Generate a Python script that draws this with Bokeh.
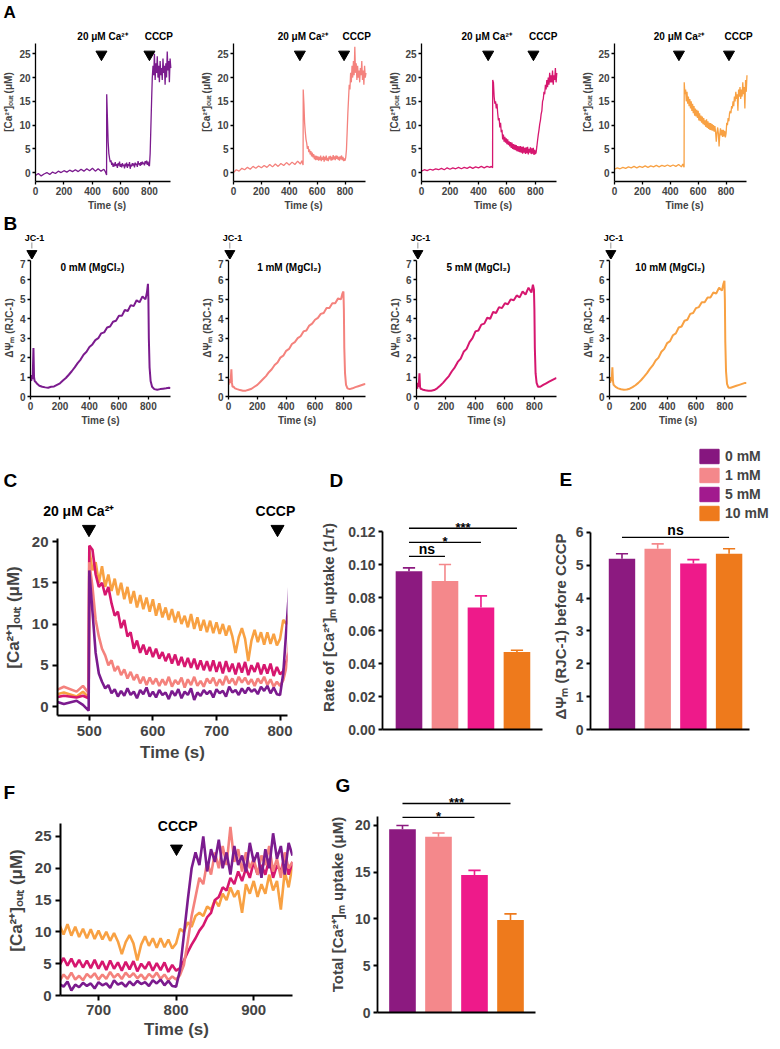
from bokeh.plotting import figure
from bokeh.layouts import column, row
from bokeh.models import Label, Legend, LegendItem, FixedTicker, NumeralTickFormatter, Range1d
from bokeh.embed import file_html
from bokeh.resources import INLINE

FONT = "Liberation Sans"

# ---------------- data ----------------
conditions = ["0 mM", "1 mM", "5 mM", "10 mM"]
trace_colors = ["#7B1B8E", "#F4827D", "#D6176F", "#F8A143"]
bar_colors = ["#8C1A80", "#F4888B", "#EE1A8A", "#EE7A1C"]
legend_colors = ["#86167F", "#F4888B", "#A21A8E", "#EE7A1C"]
mgcl2_labels = ["0 mM (MgCl₂)", "1 mM (MgCl₂)", "5 mM (MgCl₂)", "10 mM (MgCl₂)"]

ca_time = list(range(0, 500, 20)) + [490, 499] + list(range(500, 955, 5))

ca_0mM = [
    -0.6, -0.2, -0.7, -0.3, 0.0, -0.4, 0.1, -0.2, 0.3, 0.0, 0.4, 0.1, 0.5, 0.2, 0.6, 0.2, 0.7, 0.3, 0.8, 0.4,
    0.9, 0.3, 0.8, 0.3, 0.7, 0.2, -0.5,
    16.5, 11.5, 6.5, 4.0, 3.0, 2.2, 2.6, 1.6, 2.1, 1.2,
    1.9, 1.3, 2.2, 1.4, 1.8, 1.0, 2.0, 1.5, 2.3, 1.2,
    1.8, 1.1, 2.0, 1.4, 1.7, 0.9, 1.9, 1.3, 2.1, 1.0,
    1.8, 1.4, 2.2, 0.8, 1.7, 1.3, 2.0, 1.5, 1.9, 1.1,
    2.1, 1.6, 1.9, 1.2, 2.4, 1.7, 2.0, 1.4, 2.2, 1.6,
    2.3, 1.8, 2.1, 1.5, 2.4, 1.9, 2.5, 1.6, 2.3, 1.5,
    1.4, 4.0, 9.5, 15.0, 20.0, 22.5, 20.5, 25.0, 19.5, 23.0,
    21.0, 24.5, 20.0, 22.5, 19.0, 23.5, 20.5, 22.0, 19.5, 24.0,
    21.0, 22.5, 18.5, 23.0, 20.0, 25.5, 21.5, 23.5, 19.0, 24.0,
    22.0]
ca_1mM = [
    0.0, 0.6, 0.3, 0.9, 0.6, 1.1, 0.7, 1.3, 0.9, 1.4, 1.0, 1.5, 1.1, 1.7, 1.2, 1.8, 1.3, 1.9, 1.5, 2.1,
    1.6, 2.2, 1.7, 2.4, 1.8, 2.5, 1.6,
    17.5, 14.5, 10.5, 8.5, 7.0, 6.2, 5.0, 5.6, 4.3, 4.9,
    3.8, 4.5, 3.4, 4.2, 3.2, 3.9, 2.8, 3.6, 2.6, 3.5,
    2.7, 3.4, 2.5, 3.3, 2.6, 3.6, 2.4, 3.2, 2.7, 3.5,
    2.3, 3.3, 2.6, 3.6, 2.5, 3.1, 2.4, 3.4, 2.8, 3.5,
    2.5, 3.3, 2.6, 3.7, 2.8, 3.4, 2.6, 3.6, 2.9, 3.5,
    2.7, 3.3, 2.5, 3.4, 2.8, 3.6, 2.6, 3.3, 2.4, 3.0,
    2.5, 3.2, 4.8, 8.5, 12.5, 15.5, 18.5, 17.5, 21.0, 19.0,
    22.5, 20.0, 23.5, 20.5, 26.5, 21.0, 23.0, 19.5, 22.5, 20.0,
    21.5, 19.0, 22.0, 20.5, 23.5, 19.5, 21.5, 18.5, 22.5, 20.0,
    21.0]
ca_5mM = [
    0.3, 0.6, 0.4, 0.7, 0.5, 0.8, 0.6, 0.9, 0.6, 1.0, 0.7, 1.0, 0.8, 1.1, 0.8, 1.1, 0.9, 1.2, 0.9, 1.2,
    1.0, 1.3, 1.0, 1.3, 1.1, 1.3, 1.0,
    19.5, 19.0, 16.0, 14.5, 15.0, 13.5, 14.5, 12.5, 11.0, 11.5,
    9.5, 10.5, 8.5, 9.0, 7.0, 8.0, 6.5, 7.5, 6.3, 7.2,
    6.0, 7.0, 5.8, 6.6, 5.5, 6.4, 5.2, 6.3, 5.0, 6.0,
    4.8, 5.9, 4.7, 5.8, 4.5, 5.6, 4.4, 5.5, 4.3, 5.6,
    4.2, 5.4, 4.0, 5.5, 4.2, 5.2, 3.9, 5.3, 4.1, 5.4,
    3.8, 5.0, 4.2, 5.3, 3.9, 5.1, 4.0, 5.2, 3.7, 4.8,
    3.9, 4.3, 5.5, 6.8, 8.0, 9.0, 10.2, 11.0, 12.3, 13.0,
    15.0, 15.5, 17.0, 16.5, 18.5, 17.5, 19.5, 18.0, 20.0, 18.5,
    21.0, 19.0, 20.5, 19.0, 21.5, 18.5, 20.5, 19.5, 22.0, 19.0,
    21.0]
ca_10mM = [
    0.7, 1.0, 0.8, 1.1, 0.9, 1.2, 1.0, 1.3, 1.0, 1.3, 1.1, 1.4, 1.1, 1.4, 1.2, 1.5, 1.2, 1.5, 1.3, 1.6,
    1.3, 1.6, 1.3, 1.7, 1.2, 1.8, 1.1,
    19.0, 16.5, 17.5, 15.0, 17.0, 14.5, 16.0, 14.0, 15.5, 13.5,
    15.0, 13.0, 14.5, 12.5, 14.0, 12.0, 13.5, 11.8, 13.2, 11.5,
    13.0, 11.0, 12.5, 10.8, 12.0, 10.5, 11.8, 10.2, 11.5, 10.0,
    11.0, 9.6, 11.2, 9.4, 10.8, 9.2, 10.5, 9.0, 10.4, 8.9,
    10.2, 8.8, 10.0, 8.6, 9.8, 8.5, 6.5, 8.4, 9.5, 8.2,
    5.5, 8.0, 9.3, 7.8, 9.0, 7.5, 9.0, 7.6, 8.8, 7.4,
    8.2, 10.5, 10.0, 11.5, 10.8, 12.5, 13.0, 12.5, 14.0, 13.5,
    15.0, 14.0, 16.0, 15.0, 17.0, 15.5, 16.5, 13.0, 17.5, 16.0,
    18.0, 15.5, 17.5, 16.0, 19.0, 16.5, 18.0, 13.5, 19.5, 17.0,
    20.5]
ca_traces = [ca_0mM, ca_1mM, ca_5mM, ca_10mM]

jc_time = [0, 5, 10, 15, 20, 24, 28, 35, 45, 60, 80] + list(range(100, 800, 20)) + \
          [790, 797, 800, 803, 808, 815, 825, 840, 860, 880, 900, 920, 940, 950]
jc_0mM = [1.0, 0.8, 1.1, 0.9, 2.5, 1.0, 0.8, 0.75, 0.65, 0.55, 0.5,
          0.47, 0.45, 0.5, 0.52, 0.6, 0.68, 0.82, 0.95, 1.12, 1.3, 1.5, 1.72, 1.9, 2.15, 2.3, 2.55, 2.68, 2.9,
          3.0, 3.25, 3.3, 3.55, 3.6, 3.85, 3.9, 4.15, 4.15, 4.45, 4.4, 4.7, 4.65, 4.95, 4.85, 5.15, 5.0,
          5.35, 5.8, 5.0, 3.0, 1.5, 0.8, 0.5, 0.38, 0.35, 0.38, 0.4, 0.42, 0.45, 0.43]
jc_1mM = [0.6, 0.9, 0.7, 0.8, 1.4, 0.7, 0.5, 0.5, 0.42, 0.38, 0.33,
          0.3, 0.3, 0.35, 0.4, 0.5, 0.6, 0.75, 0.9, 1.05, 1.25, 1.4, 1.62, 1.75, 2.0, 2.1, 2.35, 2.45, 2.7,
          2.8, 3.0, 3.1, 3.35, 3.4, 3.65, 3.75, 3.95, 4.05, 4.25, 4.3, 4.55, 4.55, 4.8, 4.8, 5.05, 5.0,
          5.3, 5.4, 4.5, 2.5, 1.2, 0.6, 0.42, 0.38, 0.42, 0.48, 0.53, 0.58, 0.63, 0.65]
jc_5mM = [0.6, 0.4, 0.7, 0.5, 1.2, 0.5, 0.4, 0.38, 0.35, 0.32, 0.3,
          0.3, 0.33, 0.42, 0.55, 0.7, 0.88, 1.05, 1.3, 1.5, 1.78, 1.95, 2.3, 2.45, 2.8, 3.0, 3.35, 3.4, 3.7,
          3.75, 4.05, 4.0, 4.35, 4.3, 4.6, 4.55, 4.8, 4.75, 5.0, 4.95, 5.2, 5.1, 5.4, 5.25, 5.6, 5.35,
          5.75, 5.5, 4.5, 2.5, 1.2, 0.7, 0.5, 0.5, 0.6, 0.68, 0.76, 0.84, 0.92, 0.95]
jc_10mM = [0.9, 0.7, 1.0, 0.8, 1.5, 0.8, 0.6, 0.55, 0.48, 0.42, 0.37,
           0.35, 0.36, 0.4, 0.48, 0.58, 0.7, 0.85, 1.02, 1.2, 1.42, 1.6, 1.85, 2.0, 2.3, 2.45, 2.75, 2.85, 3.15,
           3.25, 3.55, 3.6, 3.9, 3.95, 4.25, 4.3, 4.55, 4.6, 4.85, 4.85, 5.1, 5.1, 5.35, 5.3, 5.6, 5.45,
           5.8, 5.95, 5.0, 2.8, 1.3, 0.65, 0.45, 0.45, 0.5, 0.55, 0.6, 0.65, 0.7, 0.7]
jc_traces = [jc_0mM, jc_1mM, jc_5mM, jc_10mM]

# event times (s) marked by arrows
ca_add_arrow = [463, 476, 468, 462]
ca_add_text = [470, 497, 457, 462]
cccp_arrow = [800, 793, 786, 821]
cccp_text = [866, 883, 854, 890]
jc1_arrow = 16
jc1_text = 34

bar_x = [1, 2, 3, 4]
rate_mean = [0.096, 0.090, 0.074, 0.047]
rate_err = [0.002, 0.010, 0.007, 0.001]
psi_mean = [5.2, 5.5, 5.05, 5.35]
psi_err = [0.15, 0.15, 0.12, 0.15]
total_mean = [19.6, 18.8, 14.7, 9.9]
total_err = [0.4, 0.4, 0.5, 0.65]

rate_sig = [(1, 2, "ns", 0.105), (1, 3, "*", 0.1135), (1, 4, "***", 0.122)]
psi_sig = [(1, 4, "ns", 5.85)]
total_sig = [(1, 3, "*", 20.86), (1, 4, "***", 22.35)]

CA_LABEL = "[Ca²⁺]ₒᵤₜ (μM)"
CA_ADD = "20 μM Ca²⁺"


# ---------------- helpers ----------------
def base_fig(w, h, bl, br, bt, bb, xr, yr):
    p = figure(width=w, height=h, x_range=Range1d(*xr), y_range=Range1d(*yr), title=None,
               output_backend="svg", toolbar_location=None, frame_align=False,
               min_border_left=bl, min_border_right=br, min_border_top=bt, min_border_bottom=bb)
    p.outline_line_color = None
    p.xgrid.visible = False
    p.ygrid.visible = False
    return p


def header(w, h, xr=None):
    """Strip above a plot that holds panel letters and event labels (no axes)."""
    p = figure(width=w, height=h, x_range=Range1d(*(xr or (0, w))), y_range=Range1d(0, h),
               title=None, x_axis_type=None, y_axis_type=None, output_backend="svg",
               toolbar_location=None, min_border=0, frame_align=False)
    p.outline_line_color = None
    return p


def aligned(xr, bl, fw, br):
    s = fw / (xr[1] - xr[0])
    return (xr[0] - bl / s, xr[1] + br / s)


def style_axis(ax, tick_px, label_px, lw, tick_out=4, lstand=3, astand=4):
    ax.axis_line_width = lw
    ax.major_tick_line_width = lw
    ax.major_tick_in = 0
    ax.major_tick_out = tick_out
    ax.minor_tick_line_color = None
    ax.major_label_text_font = FONT
    ax.major_label_text_font_style = "bold"
    ax.major_label_text_font_size = f"{tick_px}px"
    ax.major_label_standoff = lstand
    ax.axis_label_text_font = FONT
    ax.axis_label_text_font_style = "bold"
    ax.axis_label_text_font_size = f"{label_px}px"
    ax.axis_label_standoff = astand


def label(p, x, y, text, size, x_units="data", y_units="data", align="center", yoff=0):
    p.add_layout(Label(x=x, y=y, x_units=x_units, y_units=y_units, text=text, text_font=FONT,
                       text_font_style="bold", text_font_size=f"{size}px", text_align=align,
                       text_baseline="middle", y_offset=yoff, text_color="black"))


def letter(p, x, y, text, size=19):
    # y is the vertical centre of the letter, in pixels from the strip's bottom
    label(p, x, y, text, size, x_units="screen", y_units="screen", align="left")


def bars(p, mean, err, cap):
    p.vbar(x=bar_x, top=mean, width=0.74, fill_color=bar_colors, line_color=None)
    tops = [m + e for m, e in zip(mean, err)]
    p.segment(x0=bar_x, y0=mean, x1=bar_x, y1=tops, line_color=bar_colors, line_width=1.6)
    p.segment(x0=[x - cap for x in bar_x], y0=tops, x1=[x + cap for x in bar_x], y1=tops,
              line_color=bar_colors, line_width=1.6)


def sig(p, items):
    for a, b, txt, yv in items:
        p.segment(x0=[a], y0=[yv], x1=[b], y1=[yv], line_color="black", line_width=1.3)
        if txt == "ns":
            label(p, (a + b) / 2, yv, txt, 14, yoff=7)
        else:
            label(p, (a + b) / 2, yv, txt, 13, yoff=1)


# ---------------- panel A ----------------
A_w = [198, 188, 193, 185]
A_fw = [149, 146, 149, 146]
A_xr = (0, 1004)
colsA = []
for i in range(4):
    br = A_w[i] - 29 - A_fw[i]
    h = header(A_w[i], 22, aligned(A_xr, 29, A_fw[i], br))
    if i == 0:
        letter(h, 3, 10, "A", 17)
    p = base_fig(A_w[i], 191, 29, br, 0, 31, A_xr, (-1.88, 31.6))
    p.line(ca_time, ca_traces[i], line_color=trace_colors[i], line_width=1.3)
    p.scatter([ca_add_arrow[i], cccp_arrow[i]], [24.9, 24.9], marker="inverted_triangle",
              size=11, color="black")
    label(p, ca_add_text[i], 28.6, CA_ADD, 10)
    label(p, cccp_text[i], 28.6, "CCCP", 10)
    p.xaxis.ticker = FixedTicker(ticks=[0, 200, 400, 600, 800])
    p.xaxis.bounds = (0, 950)
    p.yaxis.ticker = FixedTicker(ticks=[0, 5, 10, 15, 20, 25])
    p.yaxis.bounds = (-1.88, 27.2)
    p.xaxis.axis_label = "Time (s)"
    p.yaxis.axis_label = CA_LABEL
    style_axis(p.xaxis[0], 10, 10, 1.3, tick_out=3, lstand=2, astand=2)
    style_axis(p.yaxis[0], 10, 10, 1.3, tick_out=3, lstand=2, astand=2)
    colsA.append(column(h, p))

# ---------------- panel B ----------------
B_fw = [141, 138, 141, 138]
colsB = []
for i in range(4):
    br = A_w[i] - 29 - B_fw[i]
    h = header(A_w[i], 46, aligned((0, 950), 29, B_fw[i], br))
    if i == 0:
        letter(h, 3, 36.5, "B")
    label(h, jc1_text, 22, "JC-1", 9)
    h.segment(x0=[jc1_arrow], y0=[11], x1=[jc1_arrow], y1=[17], line_color="#777777", line_width=0.8)
    h.scatter([jc1_arrow], [6], marker="inverted_triangle", size=10, color="black")
    p = base_fig(A_w[i], 169, 29, br, 0, 29, (0, 950), (0, 7.05))
    p.line(jc_time, jc_traces[i], line_color=trace_colors[i], line_width=2.0)
    label(p, 420, 6.65, mgcl2_labels[i], 10)
    p.xaxis.ticker = FixedTicker(ticks=[0, 200, 400, 600, 800])
    p.yaxis.ticker = FixedTicker(ticks=[0, 1, 2, 3, 4, 5, 6, 7])
    p.yaxis.bounds = (0, 7)
    p.xaxis.axis_label = "Time (s)"
    p.yaxis.axis_label = "ΔΨₘ (RJC-1)"
    style_axis(p.xaxis[0], 10, 10, 1.3, tick_out=3, lstand=2, astand=2)
    style_axis(p.yaxis[0], 10, 10, 1.3, tick_out=3, lstand=2, astand=2)
    colsB.append(column(h, p))

# ---------------- panel C ----------------
C_xr = (450, 811.7)
hC = header(310, 91, aligned(C_xr, 53, 234, 23))
letter(hC, 3, 39.5, "C")
label(hC, 489, 9, CA_ADD, 14)
label(hC, 793, 9, "CCCP", 14)
pC = base_fig(310, 253, 53, 23, 0, 57, C_xr, (-1.09, 22.67))
for i in [3, 2, 1, 0]:
    pC.line(ca_time, ca_traces[i], line_color=trace_colors[i], line_width=2.6)
pC.scatter([499.5, 796], [21.5, 21.5], marker="inverted_triangle", size=13, color="black")
pC.xaxis.ticker = FixedTicker(ticks=[500, 600, 700, 800])
pC.yaxis.ticker = FixedTicker(ticks=[0, 5, 10, 15, 20])
pC.yaxis.bounds = (-1.09, 20.4)
pC.xaxis.axis_label = "Time (s)"
pC.yaxis.axis_label = CA_LABEL
style_axis(pC.xaxis[0], 15, 17, 2, tick_out=5, lstand=5, astand=4)
style_axis(pC.yaxis[0], 15, 17, 2, tick_out=5, lstand=4, astand=6)

# ---------------- panel D ----------------
hD = header(234, 77)
letter(hD, 19, 25.5, "D")
pD = base_fig(234, 267, 72, 2, 0, 43, (0.264, 4.71), (0, 0.1358))
bars(pD, rate_mean, rate_err, 0.17)
sig(pD, rate_sig)
pD.xaxis.ticker = FixedTicker(ticks=[])
pD.yaxis.ticker = FixedTicker(ticks=[0, 0.02, 0.04, 0.06, 0.08, 0.10, 0.12])
pD.yaxis.formatter = NumeralTickFormatter(format="0.00")
pD.yaxis.bounds = (0, 0.12)
pD.yaxis.axis_label = "Rate of [Ca²⁺]ₘ uptake (1/τ)"
style_axis(pD.xaxis[0], 14, 15, 1.8)
style_axis(pD.yaxis[0], 14, 15, 1.8, tick_out=4, lstand=3, astand=8)

# ---------------- panel E ----------------
hE = header(226, 95)
letter(hE, 15, 44.5, "E")
leg_items = []
for c, col in zip(conditions, legend_colors):
    r = hE.vbar(x=[0], top=[0], width=0.5, fill_color=col, line_color=col, visible=False)
    leg_items.append(LegendItem(label=c, renderers=[r]))
legend = Legend(items=leg_items, location=(153, 1), glyph_width=24, glyph_height=18,
                label_height=18, spacing=1, padding=0, margin=0, label_standoff=4,
                border_line_color=None, background_fill_alpha=0,
                label_text_font=FONT, label_text_font_style="bold", label_text_font_size="14px")
hE.add_layout(legend)
pE = base_fig(226, 249, 46, 4, 0, 43, (0.118, 5.048), (0, 6.27))
bars(pE, psi_mean, psi_err, 0.17)
sig(pE, psi_sig)
pE.xaxis.ticker = FixedTicker(ticks=[])
pE.xaxis.bounds = (0.118, 4.571)
pE.yaxis.ticker = FixedTicker(ticks=[0, 1, 2, 3, 4, 5, 6])
pE.yaxis.bounds = (0, 6)
pE.yaxis.axis_label = "ΔΨₘ (RJC-1) before CCCP"
style_axis(pE.xaxis[0], 14, 15, 1.8)
style_axis(pE.yaxis[0], 14, 15, 1.8, tick_out=4, lstand=3, astand=4)

# ---------------- panel F ----------------
hF = header(312, 33)
letter(hF, 3, 13.5, "F")
pF = base_fig(312, 236, 60, 20, 0, 46, (651, 950), (0, 29.87))
for i in [3, 2, 1, 0]:
    pF.line(ca_time, ca_traces[i], line_color=trace_colors[i], line_width=2.6)
pF.scatter([800.5], [23.1], marker="inverted_triangle", size=12, color="black")
label(pF, 802, 26.6, "CCCP", 14)
pF.xaxis.ticker = FixedTicker(ticks=[700, 800, 900])
pF.yaxis.ticker = FixedTicker(ticks=[0, 5, 10, 15, 20, 25])
pF.yaxis.bounds = (0, 27)
pF.xaxis.axis_label = "Time (s)"
pF.yaxis.axis_label = CA_LABEL
style_axis(pF.xaxis[0], 15, 17, 2, tick_out=5, lstand=4, astand=2)
style_axis(pF.yaxis[0], 15, 17, 2, tick_out=5, lstand=4, astand=6)

# ---------------- panel G ----------------
hG = header(240, 24)
letter(hG, 23, 11, "G")
pG = base_fig(240, 245, 65, 15, 0, 29, (0.306, 4.75), (0, 23.1))
bars(pG, total_mean, total_err, 0.17)
sig(pG, total_sig)
pG.xaxis.ticker = FixedTicker(ticks=[])
pG.xaxis.bounds = (0.306, 4.69)
pG.yaxis.ticker = FixedTicker(ticks=[0, 5, 10, 15, 20])
pG.yaxis.bounds = (0, 21)
pG.yaxis.axis_label = "Total [Ca²⁺]ₘ uptake (μM)"
style_axis(pG.xaxis[0], 14, 15, 1.8)
style_axis(pG.yaxis[0], 14, 15, 1.8, tick_out=4, lstand=3, astand=6)

layout = column(
    row(*colsA),
    row(*colsB),
    row(column(hC, pC), column(hD, pD), column(hE, pE)),
    row(column(hF, pF), column(hG, pG)),
)
open("out.html", "w").write(file_html(layout, INLINE, title="Mg2+ and mitochondrial Ca2+ uptake"))
